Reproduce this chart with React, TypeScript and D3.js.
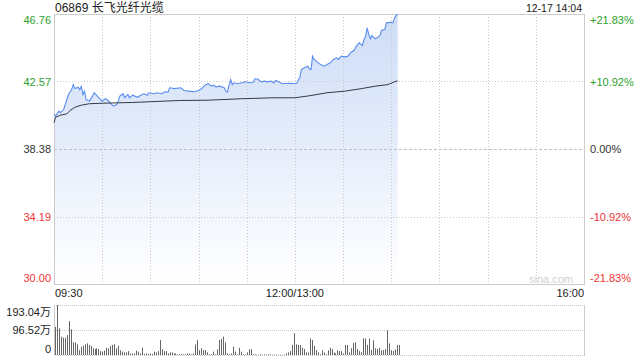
import React from 'react';
import * as d3 from 'd3';

const title = '06869 长飞光纤光缆';
const stamp = '12-17 14:04';
const prevClose = 38.38;
const priceTicks = [46.76, 42.57, 38.38, 34.19, 30.0];
const pctTicks = ['+21.83%', '+10.92%', '0.00%', '-10.92%', '-21.83%'];
const timeLabels = ['09:30', '12:00/13:00', '16:00'];
const volTicks = [193.04, 96.52, 0];
const volTickLabels = ['193.04万', '96.52万', '0'];

const priceTimes = [
  '09:30','09:31','09:33','09:34','09:36','09:38','09:39','09:41','09:42','09:43',
  '09:45','09:46','09:47','09:48','09:49','09:50','09:52','09:54','09:55','09:57',
  '09:59','10:00','10:02','10:03','10:06','10:07','10:09','10:10','10:11','10:13',
  '10:14','10:16','10:17','10:19','10:22','10:24','10:26','10:28','10:29','10:32',
  '10:34','10:37','10:39','10:41','10:42','10:45','10:49','10:51','10:54','10:57',
  '11:00','11:02','11:04','11:06','11:08','11:09','11:11','11:13','11:16','11:17',
  '11:18','11:19','11:20','11:21','11:22','11:24','11:27','11:29','11:32','11:34',
  '11:35','11:37','11:39','11:41','11:43','11:45','11:47','11:48','11:50','11:52',
  '11:56','11:59','13:01','13:02','13:03','13:04','13:06','13:08','13:09','13:10',
  '13:11','13:12','13:14','13:16','13:18','13:20','13:22','13:24','13:26','13:27',
  '13:29','13:31','13:33','13:35','13:37','13:38','13:40','13:42','13:43','13:44',
  '13:45','13:46','13:47','13:48','13:50','13:52','13:53','13:54','13:56','13:57',
  '14:00','14:01','14:02','14:03','14:04',
];
const priceValues = [
  40.56,40.42,40.73,40.63,40.83,41.45,41.76,42.07,42.38,42.13,
  42.22,42.07,42.26,41.76,41.97,41.45,41.35,41.66,41.87,41.66,
  41.45,41.35,41.51,41.45,41.14,41.04,41.14,41.35,41.66,41.81,
  41.56,41.76,41.56,41.72,41.59,41.72,41.81,41.72,41.87,41.81,
  41.87,41.81,41.93,41.91,42.18,42.13,42.18,42.01,41.97,41.93,
  42.01,42.13,42.34,42.43,42.28,42.34,42.24,42.28,42.18,41.97,
  41.91,42.34,42.69,42.38,42.49,42.43,42.49,42.55,42.49,42.51,
  42.74,42.71,42.55,42.59,42.55,42.59,42.49,42.63,42.55,42.43,
  42.46,42.45,42.45,42.63,42.80,43.31,43.42,43.52,43.36,43.31,
  44.14,43.94,43.77,43.62,43.52,43.62,43.73,43.94,44.04,43.94,
  44.14,44.10,44.14,44.39,44.51,44.72,44.97,44.80,45.18,45.38,
  45.90,45.49,45.22,45.43,45.22,45.34,45.43,45.75,45.80,46.21,
  46.25,46.21,46.52,46.67,46.74,
];

const avgTimes = [
  '09:30','09:31','09:34','09:38','09:40','09:43','09:47','09:52','10:00','10:19',
  '10:48','11:06','11:27','11:47','12:00','13:03','13:10','13:20','13:31','13:41',
  '13:50','13:58','14:03','14:04',
];
const avgValues = [
  40.01,40.35,40.48,40.56,40.77,40.97,41.10,41.19,41.22,41.27,
  41.39,41.41,41.50,41.56,41.56,41.60,41.70,41.87,41.97,42.12,
  42.28,42.38,42.59,42.60,
];

const lastBarTime = '14:04';
const volumes = [
  109,193,103,71,67,67,77,131,99,49,
  49,41,19,32,36,41,45,39,35,26,
  23,26,23,15,13,17,28,26,35,39,
  42,26,36,18,13,10,10,15,6,6,
  6,17,13,6,28,4,6,4,6,4,
  13,10,15,
  58,22,15,15,6,10,10,6,6,3,
  3,3,3,3,6,6,3,6,41,58,
  19,26,19,19,10,3,3,13,3,22,
  58,62,71,49,6,3,6,32,13,3,
  28,13,3,1,10,22,22,3,3,1,
  1,3,1,3,1,3,3,
  1,1,1,1,1,1,1,6,10,15,
  39,84,41,39,39,28,23,10,10,64,
  58,36,19,10,3,18,10,3,18,28,
  23,10,6,18,15,15,6,39,39,10,
  26,46,49,23,15,10,64,64,39,64,
  19,57,26,23,28,18,19,23,95,45,
  19,15,21,39,39,
];

const toMinute = (s: string) => {
  const [h, m] = s.split(':').map(Number);
  const t = h * 60 + m;
  return t <= 720 ? t - 570 : t - 780 + 150;
};

const FONT = '"Liberation Sans", Arial, "Noto Sans CJK SC", sans-serif';
const GREEN = '#2ea12e';
const RED = '#ee3333';
const DARK = '#333333';

export default function App() {
  const L = 54, R = 584, T = 14, B = 284;
  const VT = 305, VB = 355;
  const x = d3.scaleLinear().domain([0, 330]).range([L, R]);
  const y = d3.scaleLinear().domain([30, 46.76]).range([B, T]);
  const yv = d3.scaleLinear().domain([0, 193.04]).range([VB, VT]);

  const pts = priceTimes.map((t, i) => [toMinute(t), priceValues[i]] as [number, number]);
  const avgPts = avgTimes.map((t, i) => [toMinute(t), avgValues[i]] as [number, number]);

  const line = d3.line<[number, number]>().x(d => x(d[0])).y(d => y(d[1]));
  const area = d3.area<[number, number]>().x(d => x(d[0])).y0(B).y1(d => y(d[1]));

  const lastMin = toMinute(lastBarTime);
  const n = volumes.length;
  const colorFor = (v: number) => (v > prevClose + 1e-9 ? GREEN : v < prevClose - 1e-9 ? RED : DARK);
  const clampC = (v: number, lo: number, hi: number) => Math.max(lo, Math.min(hi, v));

  const vGrid = d3.range(30, 330, 30);

  return (
    <svg width={640} height={360} style={{ position: 'absolute', left: 0, top: 0 }} fontFamily={FONT}>
      <defs>
        <linearGradient id="fillG" gradientUnits="userSpaceOnUse" x1={0} y1={T} x2={0} y2={B}>
          <stop offset="0%" stopColor="#cddcf7" />
          <stop offset="100%" stopColor="#ffffff" />
        </linearGradient>
      </defs>
      <rect x={0} y={0} width={640} height={360} fill="#fff" />
      <text x={55} y={12} fontSize={12} fill="#222">{title}</text>
      <text x={582} y={12} fontSize={10.5} fill="#222" textAnchor="end">{stamp}</text>

      <path d={area(pts) || ''} fill="url(#fillG)" />

      {vGrid.map(m => (
        <line key={'vg' + m} x1={Math.round(x(m)) + 0.5} x2={Math.round(x(m)) + 0.5} y1={T} y2={B}
          stroke="#c8c8c8" strokeDasharray="1,2" />
      ))}
      {priceTicks.slice(1, -1).map(p => (
        <line key={'hg' + p} x1={L} x2={R} y1={Math.round(y(p)) + 0.5} y2={Math.round(y(p)) + 0.5}
          stroke={p === prevClose ? '#c0c0c0' : '#c8c8c8'} strokeDasharray={p === prevClose ? '3,2' : '1,2'} />
      ))}
      <rect x={L + 0.5} y={T + 0.5} width={R - L} height={B - T} fill="none" stroke="#cccccc" />

      <path d={line(pts) || ''} fill="none" stroke="#5a8df0" strokeWidth={1.1} />
      <path d={line(avgPts) || ''} fill="none" stroke="#333a45" strokeWidth={1} />

      {priceTicks.map((p, i) => {
        const cy = clampC(y(p), T + 6, B - 6.5);
        return (
          <g key={'pl' + p}>
            <text x={51} y={cy + 4} fontSize={11} textAnchor="end" fill={colorFor(p)}>{p.toFixed(2)}</text>
            <text x={590} y={cy + 4} fontSize={11} fill={colorFor(p)}>{pctTicks[i]}</text>
          </g>
        );
      })}

      <text x={573} y={282.5} fontSize={11} textAnchor="end" fill="#cfcfcf">sina.com</text>

      <text x={55} y={297} fontSize={11} fill="#222">{timeLabels[0]}</text>
      <text x={x(150)} y={297} fontSize={11} fill="#222" textAnchor="middle">{timeLabels[1]}</text>
      <text x={R} y={297} fontSize={11} fill="#222" textAnchor="end">{timeLabels[2]}</text>

      {volTicks.slice(0, 2).map(v => (
        <line key={'vgl' + v} x1={L} x2={R} y1={Math.round(yv(v)) + 0.5} y2={Math.round(yv(v)) + 0.5}
          stroke="#c8c8c8" strokeDasharray="1,1" />
      ))}
      <line x1={L} x2={R} y1={VB + 0.5} y2={VB + 0.5} stroke="#c8c8c8" strokeDasharray="1,1" />
      <line x1={L + 0.5} x2={L + 0.5} y1={VT} y2={VB + 1} stroke="#cccccc" />
      <line x1={R + 0.5} x2={R + 0.5} y1={VT} y2={VB + 1} stroke="#cccccc" />

      {volumes.map((v, i) => {
        const m = (i * lastMin) / (n - 1);
        const bx = Math.round(x(m)) + 1;
        const top = yv(v);
        return <rect key={'vb' + i} x={bx} y={top} width={1} height={Math.max(0.5, VB - top)} fill="#666" />;
      })}

      {volTicks.map((v, i) => {
        const cy = clampC(yv(v), VT + 7, VB - 6);
        return (
          <text key={'vl' + v} x={51} y={cy + 4} fontSize={11} textAnchor="end" fill="#222">{volTickLabels[i]}</text>
        );
      })}
    </svg>
  );
}
